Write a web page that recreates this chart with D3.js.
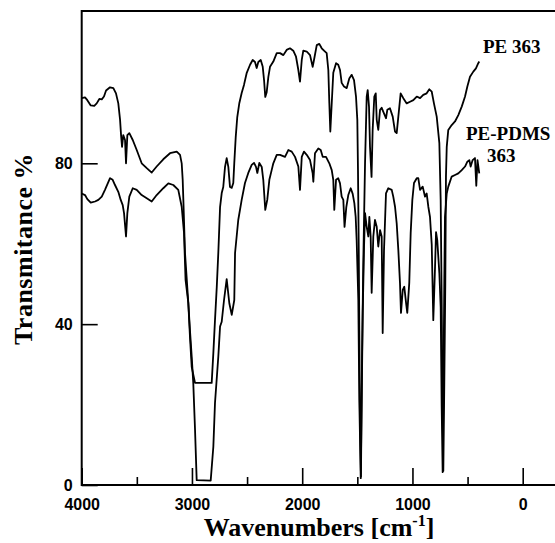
<!DOCTYPE html>
<html>
<head>
<meta charset="utf-8">
<script src="https://cdn.jsdelivr.net/npm/d3@7"></script>
<style>
  body { margin: 0; background: #fff; }
  svg { display: block; }
</style>
</head>
<body>
<div id="chart"></div>
<script>
// tick values
const xTicksMajor = [4000, 3000, 2000, 1000, 0];
const xTicksMinor = [3500, 2500, 1500, 500];
const yTicks = [0, 40, 80];

// series: [wavenumber, transmitance]
const pe363 = [
    [4000,96.2],[3970,96.4],[3949,95.7],[3918,94.4],[3886,94.3],[3864,94.9],[3840,96.0],[3818,95.9],
    [3798,96.6],[3779,98.1],[3743,98.9],[3713,98.7],[3689,97.4],[3668,94.9],[3652,90.8],[3643,87.0],
    [3634,84.1],[3623,87.0],[3607,85.8],[3598,80.0],[3586,87.0],[3568,87.5],[3537,85.8],[3501,83.3],
    [3456,80.0],[3410,78.8],[3365,77.7],[3320,79.2],[3260,81.0],[3199,82.5],[3138,82.9],[3108,82.1],
    [3093,80.0],[3084,75.9],[3078,70.9],[3063,57.7],[3033,45.3],[3018,36.8],[3002,29.3],[2972,25.4],
    [2821,25.4],[2806,32.8],[2791,41.0],[2775,49.2],[2761,57.7],[2745,69.1],[2730,72.6],[2716,74.1],
    [2700,79.1],[2685,81.3],[2670,79.1],[2655,74.1],[2639,73.9],[2625,75.1],[2616,80.1],[2603,86.5],
    [2589,91.5],[2570,95.0],[2549,97.5],[2528,99.5],[2503,102.5],[2473,104.5],[2449,105.7],[2428,105.2],
    [2413,103.7],[2398,105.2],[2376,105.7],[2358,104.0],[2346,100.7],[2335,96.5],[2322,97.7],[2307,101.5],
    [2292,104.0],[2262,105.3],[2231,107.4],[2201,107.4],[2171,106.9],[2141,108.2],[2111,108.6],[2081,108.0],
    [2056,106.5],[2035,103.2],[2020,100.3],[2004,105.7],[1990,108.0],[1959,107.8],[1929,106.9],[1905,104.0],
    [1893,105.7],[1868,109.4],[1845,109.7],[1823,108.6],[1802,108.0],[1778,107.4],[1763,103.2],[1754,95.0],
    [1745,87.9],[1732,95.0],[1718,102.5],[1693,104.9],[1673,104.5],[1657,103.2],[1642,100.0],[1621,99.1],
    [1596,98.7],[1573,101.1],[1551,102.0],[1530,100.7],[1512,96.6],[1500,90.8],[1494,78.3],[1487,58.4],
    [1482,38.5],[1476,16.2],[1467,2.1],[1458,30.3],[1446,55.2],[1430,80.1],[1415,96.6],[1406,98.2],
    [1394,94.1],[1385,84.1],[1371,76.6],[1361,88.3],[1346,96.6],[1333,97.4],[1324,90.8],[1310,88.3],
    [1294,93.3],[1279,93.8],[1264,92.8],[1240,91.2],[1228,93.3],[1204,93.7],[1179,91.6],[1158,87.9],
    [1143,87.5],[1128,91.6],[1107,97.4],[1083,96.2],[1052,94.9],[1022,95.3],[992,95.7],[961,96.6],
    [931,96.2],[902,97.0],[871,97.4],[847,98.4],[825,97.8],[805,94.9],[780,91.6],[756,85.0],
    [744,70.9],[735,46.0],[726,16.2],[720,3.5],[711,25.4],[702,50.2],[696,76.7],[689,84.1],
    [675,88.3],[644,89.5],[614,90.4],[584,92.0],[553,94.1],[523,96.6],[502,99.1],[478,101.5],
    [448,102.8],[424,103.6],[403,104.9],[394,105.3]
];

const pePdms363 = [
    [4000,72.5],[3970,72.1],[3949,71.1],[3918,70.2],[3879,70.5],[3849,70.9],[3818,71.7],[3789,73.4],
    [3743,76.3],[3719,75.9],[3698,74.6],[3668,72.9],[3646,70.9],[3628,69.6],[3616,67.6],[3598,61.8],
    [3586,67.6],[3568,71.7],[3537,73.8],[3501,73.4],[3456,72.1],[3410,71.3],[3365,70.5],[3320,72.1],
    [3260,73.8],[3214,75.0],[3169,74.6],[3124,73.4],[3093,69.2],[3072,62.7],[3058,51.0],[3033,45.3],
    [3018,38.5],[3002,31.9],[2988,25.4],[2972,13.7],[2957,1.2],[2830,1.1],[2806,9.5],[2791,20.4],
    [2761,31.9],[2745,39.4],[2730,40.6],[2709,46.0],[2685,51.2],[2661,45.2],[2639,42.3],[2616,46.0],
    [2609,57.7],[2580,65.9],[2549,70.9],[2519,75.1],[2489,77.6],[2458,79.6],[2437,80.1],[2419,79.1],
    [2407,77.6],[2389,80.1],[2367,79.1],[2353,75.9],[2335,68.4],[2317,70.9],[2298,75.9],[2277,78.3],
    [2262,80.0],[2231,82.1],[2201,82.1],[2156,81.6],[2126,83.3],[2095,82.9],[2065,81.6],[2035,79.2],
    [2020,73.4],[2004,81.6],[1984,82.9],[1959,82.1],[1929,80.8],[1905,77.5],[1899,75.4],[1884,82.5],
    [1854,83.7],[1832,83.3],[1814,81.6],[1784,81.6],[1754,80.0],[1732,78.3],[1718,75.9],[1709,68.4],
    [1693,75.9],[1673,76.3],[1657,75.0],[1642,71.7],[1627,70.9],[1616,64.2],[1600,69.1],[1582,72.1],
    [1560,73.8],[1542,72.4],[1527,70.1],[1515,66.7],[1506,60.9],[1491,46.0],[1482,21.1],[1469,1.7],
    [1460,22.0],[1451,42.8],[1439,59.3],[1430,67.6],[1415,64.2],[1400,61.8],[1391,66.7],[1379,61.8],
    [1370,47.8],[1355,61.8],[1340,65.9],[1324,64.2],[1310,59.3],[1294,63.4],[1279,61.8],[1270,37.8],
    [1258,58.4],[1240,72.5],[1219,73.8],[1188,73.4],[1174,71.7],[1158,69.2],[1143,65.1],[1128,58.4],
    [1113,50.2],[1104,42.8],[1088,48.5],[1074,49.3],[1058,45.3],[1047,42.8],[1029,50.2],[1016,62.7],
    [1001,70.9],[986,75.1],[961,76.3],[947,76.3],[931,73.4],[907,74.2],[886,71.7],[871,72.5],
    [856,69.2],[841,66.7],[825,59.7],[811,41.0],[795,54.3],[786,62.9],[775,60.9],[756,52.7],
    [744,44.3],[735,19.5],[726,3.2],[720,21.1],[711,51.0],[705,66.7],[689,72.5],[675,74.2],
    [644,76.7],[614,77.1],[584,77.5],[553,78.3],[523,79.2],[502,80.4],[484,80.8],[472,79.2],
    [454,80.8],[433,81.3],[421,74.4],[410,80.8],[394,77.5]
];

const width = 555, height = 543;
const plotLeft = 81.7, plotRight = 555, plotTop = 11, plotBottom = 485;

const x = d3.scaleLinear().domain([4000, 0]).range([plotLeft, 522.7]);
const y = d3.scaleLinear().domain([0, 80]).range([plotBottom, 163.3]);

const svg = d3.select("#chart").append("svg")
    .attr("width", width)
    .attr("height", height);

const line = d3.line()
    .x(function(d) { return x(d[0]); })
    .y(function(d) { return y(d[1]); });

// spectra
[pe363, pePdms363].forEach(function(s) {
    svg.append("path")
        .datum(s)
        .attr("fill", "none")
        .attr("stroke", "#000")
        .attr("stroke-width", 1.8)
        .attr("stroke-linejoin", "round")
        .attr("d", line);
});

// x axis, ticks point inward
const xAxis = svg.append("g")
    .attr("transform", "translate(0," + plotBottom + ")")
    .call(d3.axisBottom(x).tickValues(xTicksMajor).tickSize(-17).tickPadding(13.5)
        .tickFormat(d3.format("d")));
svg.append("g")
    .attr("transform", "translate(0," + plotBottom + ")")
    .call(d3.axisBottom(x).tickValues(xTicksMinor).tickSize(-8).tickFormat(""))
    .call(function(g) { g.select(".domain").remove(); });

const yAxis = svg.append("g")
    .attr("transform", "translate(" + plotLeft + ",0)")
    .call(d3.axisLeft(y).tickValues(yTicks).tickSize(-16).tickPadding(9));

[xAxis, yAxis].forEach(function(g) {
    g.select(".domain").remove();
    g.selectAll("text")
        .style("font-family", "'Liberation Sans', Arial, sans-serif")
        .style("font-weight", "bold")
        .style("font-size", "16px")
        .attr("fill", "#000");
});
svg.selectAll(".tick line").attr("stroke", "#000").attr("stroke-width", 1.6);

// frame: left, bottom, top
svg.append("path")
    .attr("d", "M" + plotRight + "," + plotTop + "H" + plotLeft + "V" + plotBottom + "H" + plotRight)
    .attr("fill", "none")
    .attr("stroke", "#000")
    .attr("stroke-width", 2);

const serif = "'Liberation Serif', 'Times New Roman', serif";

// axis titles
const xTitle = svg.append("text")
    .attr("x", 319)
    .attr("y", 536)
    .attr("text-anchor", "middle")
    .style("font-family", serif)
    .style("font-weight", "bold")
    .style("font-size", "26px")
    .text("Wavenumbers [cm");
xTitle.append("tspan").attr("dy", -10).style("font-size", "16px").text("-1");
xTitle.append("tspan").attr("dy", 10).text("]");

svg.append("text")
    .attr("transform", "translate(32,249) rotate(-90)")
    .attr("text-anchor", "middle")
    .style("font-family", serif)
    .style("font-weight", "bold")
    .style("font-size", "26px")
    .style("letter-spacing", "0.5px")
    .text("Transmitance %");

// series labels
const labels = [
    {text: "PE 363", x: 483, y: 53},
    {text: "PE-PDMS", x: 466, y: 140},
    {text: "363", x: 487, y: 162}
];
svg.selectAll(".series-label")
    .data(labels)
    .enter()
    .append("text")
    .attr("class", "series-label")
    .attr("x", function(d) { return d.x; })
    .attr("y", function(d) { return d.y; })
    .style("font-family", serif)
    .style("font-weight", "bold")
    .style("font-size", "19px")
    .text(function(d) { return d.text; });
</script>
</body>
</html>
